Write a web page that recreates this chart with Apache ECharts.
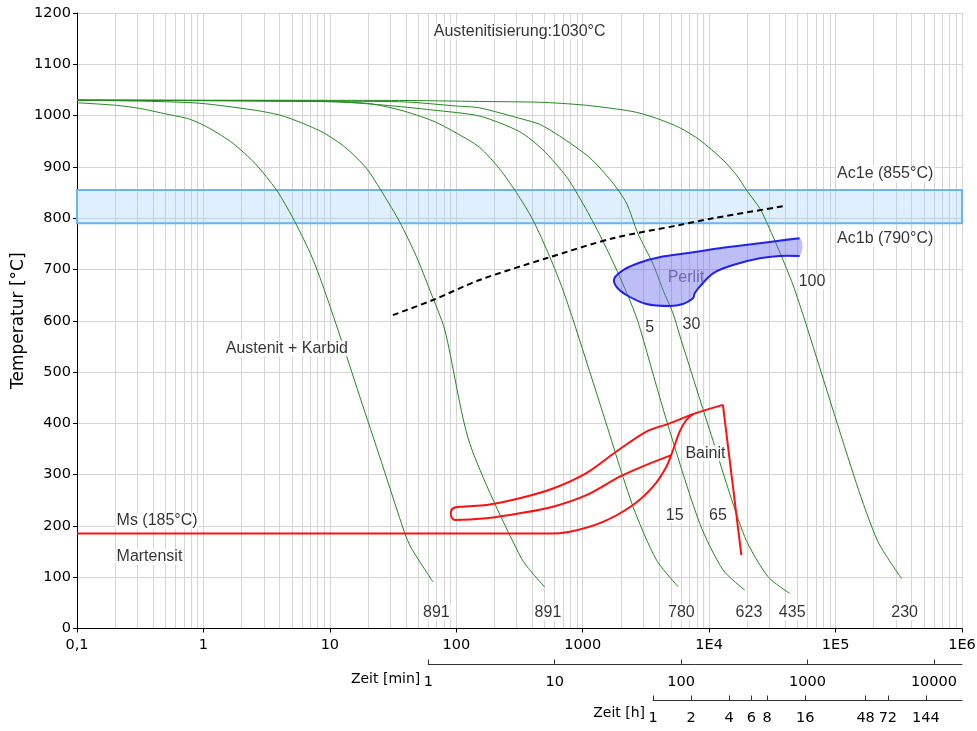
<!DOCTYPE html>
<html><head><meta charset="utf-8">
<script src="https://cdn.jsdelivr.net/npm/echarts@6/dist/echarts.min.js"></script>
<style>html,body{margin:0;padding:0;background:#fff}#c{width:977px;height:731px}</style>
</head><body><div id="c"></div>
<script>
// ---------- data (time in s, temperature in °C) ----------
const xTickLabels = ['0,1','1','10','100','1000','1E4','1E5','1E6'];
const hourTicks = [1,2,4,6,8,16,48,72,144];
const acBand = [790, 855];

const curve891a = [[0.1,1025],[0.205,1020],[0.313,1014],[0.509,1003],[0.778,993],[1.12,975],[1.71,946],[2.55,907],[3.78,855],[5.11,800],[6.93,734],[8.3,686],[11.6,582],[17.2,453],[25.7,323],[39.1,186],[44.2,156],[65.4,91]];
const curve891b = [[0.1,1030],[0.35,1028],[0.934,1024],[2.47,1011],[4.01,1001],[5.96,986],[8.83,967],[13.1,939],[19.5,897],[26.3,848],[35.6,793],[48.4,725],[61.7,660],[81.1,582],[127.7,361],[327,137],[500,81]];
const curve780 = [[0.1,1030],[5.77,1028.3],[19.45,1024],[35.7,1011],[65.4,989.5],[100.2,966],[153,938],[220,896],[299,850],[404,796.5],[548,725],[698,660],[891,582],[1446,419.6],[2500,237.5],[3828,133.8],[5675,81.7]];
const curve623 = [[0.1,1030],[10.5,1027],[26.2,1020.6],[65.1,1010.8],[153,999],[317,968.6],[485,933],[743,881],[946,839.4],[1267,783],[1635,728],[1960,686],[2353,640.5],[2673,605.4],[2912,576],[4592,406.5],[8420,205],[12880,114],[19100,75]];
const curve435 = [[0.1,1030],[35.7,1027],[100.2,1018.7],[153,1015],[337,992.8],[457,983],[658,960],[1135,918],[1694,871.5],[2216,829.6],[2724,771],[3597,710.7],[4315,660],[5177,614.5],[5845,572],[10090,387],[19100,179],[29200,101],[43300,68.6]];
const curve230 = [[0.1,1030],[35.7,1029.5],[153,1027.5],[457,1026],[1005,1020.7],[1847,1012.9],[2659,1006.4],[3828,994.7],[5850,976.4],[8420,952.4],[12880,913.4],[16430,884.2],[19720,855],[25130,819.3],[28380,793.1],[36150,734],[46050,669.7],[57000,601.5],[146100,283],[216500,169.2],[331600,97.7]];
const coolingCurves = [curve891a, curve891b, curve780, curve623, curve435, curve230];

const carbideLine = [[31.5,611],[65.5,640.5],[153,679.5],[516,721.8],[1737,760.8],[5848,786.7],[10720,799.8],[40800,824.3]];
const perlitOutline = [[52000,760.8],[25100,751],[12100,741.3],[6600,731.5],[4040,723.7],[2810,713.2],[2137,700.3],[1781,682.8],[1846,666.4],[2213,650.2],[3189,632.7],[4876,628.8],[6210,632.7],[7450,643.8],[7690,653.5],[8420,666.4],[10740,692.5],[15450,708.7],[25100,721.8],[36100,726.3],[52000,726.3]];
const bainitLoop = [[5030,338],[3190,319],[1963,296],[1069,260],[582,237.5],[318,224.6],[173,215],[97,211.6],[90.3,223],[94.2,234.3],[113,237.5],[173,240.8],[317,254],[582,273],[1069,303],[1846,345],[3189,384],[4875,400],[7450,418],[12850,436]];
const bainitDrop = [[12850,436],[17980,143]];
const msLine = [[0.1,185],[516,185],[789,188.7],[1447,208],[2500,240.8],[3596,276.5],[4592,315.5],[5180,348],[5845,383.7],[6600,406.5],[7450,418]];

const curveLabelText = ['891','891','780','623','435','230','5','30','100','15','65'];
const curveLabelPos = [[69.6,31],[531,31],[6030,31],[20650,31],[45400,31],[352000,31],[3388,587],[7244,592],[65130,676],[5340,221],[11750,221]];
const annoText = ['Austenitisierung:1030°C','Austenit + Karbid','Ms (185°C)','Martensit','Ac1e (855°C)','Ac1b (790°C)','Bainit'];
const annoPos = [[317,1164],[4.57,546],[0.2,209.6],[0.2,140],[1e5,886],[1e5,759.4],[9340,341.6]];
const annoLeft = [false,false,true,true,true,true,false];
const perlitText = 'Perlit';
const perlitPos = [6550,684.7];

// ---------- layout ----------
const W = 977, H = 731;
const G = {left:77, right:15, top:13, bottom:102.5};
const tMin = 0.1, tMax = 1e6;
const pxPerDec = (W - G.left - G.right) / (Math.log10(tMax) - Math.log10(tMin));
const xAt = t => G.left + (Math.log10(t) - Math.log10(tMin)) * pxPerDec;
const SEC_PER_MIN = 60, SEC_PER_H = 3600;

const gridVals = [];
for (let d = -1; d <= 5; d++) for (let m = 1; m <= 9; m++) gridVals.push(m * Math.pow(10, d));
gridVals.push(1e6);

const tickFont = 'DejaVu Sans';
const annoFont = 'Liberation Sans';

const chart = echarts.init(document.getElementById('c'));

const labelData = [];
curveLabelText.forEach((s, i) => labelData.push({value: curveLabelPos[i], label:{show:true, formatter:s, position:'inside'}}));
annoText.forEach((s, i) => labelData.push({value: annoPos[i], label:{show:true, formatter:s, position: annoLeft[i] ? 'right' : 'inside', distance:0}}));

const series = [];
series.push({
  type:'line', data:[], silent:true, z:1,
  markLine:{silent:true, symbol:['none','none'], z:0, animation:false, label:{show:false},
    lineStyle:{color:'#d5d5d5', width:1, type:'solid'}, data: gridVals.map(v => ({xAxis:v}))},
  markArea:{silent:true, z:1, animation:false,
    itemStyle:{color:'rgba(160,205,250,0.32)', borderColor:'#6cb2f4', borderWidth:2},
    data:[[{yAxis:acBand[0]},{yAxis:acBand[1]}]]}
});
coolingCurves.forEach(c => series.push({
  type:'line', data:c, symbol:'none', smooth:0.25, silent:true, z:3,
  lineStyle:{color:'#23891f', width:1}
}));
series.push({type:'line', data:carbideLine, symbol:'none', smooth:0.3, silent:true, z:4,
  lineStyle:{color:'#000', width:2, type:[6,4]}});
series.push({
  type:'custom', data:perlitOutline, silent:true, z:4,
  renderItem:(params, api) => {
    if (params.dataIndex !== 0) return null;
    const pts = perlitOutline.map(p => api.coord(p));
    return {type:'group', children:[
      {type:'polygon', shape:{points:pts, smooth:0.35}, style:{fill:'rgba(100,100,235,0.42)'}},
      {type:'polyline', shape:{points:pts, smooth:0.35}, style:{stroke:'#2222ee', lineWidth:2, fill:null}}
    ]};
  }
});
series.push({type:'scatter', data:[{value:perlitPos}], symbolSize:1, silent:true, z:5,
  itemStyle:{color:'rgba(0,0,0,0)'},
  label:{show:true, formatter:perlitText, position:'inside', fontFamily:annoFont, fontSize:16, color:'rgba(70,70,150,0.85)', textBorderWidth:0}});
series.push({type:'scatter', data:labelData, symbolSize:1, silent:true, z:5,
  itemStyle:{color:'rgba(0,0,0,0)'},
  label:{fontFamily:annoFont, fontSize:16, color:'#000', textBorderWidth:0, backgroundColor:'#fff', padding:[0,1]}});
series.push({type:'line', data:bainitLoop, symbol:'none', smooth:0.3, silent:true, z:6, lineStyle:{color:'#ff1010', width:2}});
series.push({type:'line', data:bainitDrop, symbol:'none', silent:true, z:6, lineStyle:{color:'#ff1010', width:2}});
series.push({type:'line', data:msLine, symbol:'none', smooth:0.3, silent:true, z:6, lineStyle:{color:'#ff1010', width:2}});

const gridMinLeft = xAt(SEC_PER_MIN);
const gridHLeft = xAt(SEC_PER_H);
const gridBase = {containLabel:false, outerBoundsMode:'none'};
const option = {
  animation:false,
  backgroundColor:'#fff',
  grid:[
    Object.assign({left:G.left, right:G.right, top:G.top, bottom:G.bottom}, gridBase),
    Object.assign({left:gridMinLeft, right:G.right, top:654.5, height:10}, gridBase),
    Object.assign({left:gridHLeft, right:G.right, top:690.5, height:10}, gridBase)
  ],
  xAxis:[
    {type:'log', gridIndex:0, min:tMin, max:tMax, logBase:10, splitNumber:7,
      axisLine:{lineStyle:{color:'#000', width:1}},
      axisTick:{show:true, length:4, lineStyle:{color:'#000'}},
      axisLabel:{color:'#000', fontFamily:tickFont, fontSize:14.5, margin:9,
        formatter:v => xTickLabels[Math.round(Math.log10(v)) + 1]},
      splitLine:{show:false}},
    {type:'log', gridIndex:1, min:1, max:tMax/SEC_PER_MIN, logBase:10,
      axisLine:{lineStyle:{color:'#333', width:1}},
      axisTick:{show:true, inside:true, length:5, lineStyle:{color:'#333'}},
      axisLabel:{color:'#000', fontFamily:tickFont, fontSize:14.5, margin:10, formatter:v => String(Math.round(v))},
      splitLine:{show:false},
      name:'Zeit [min]', nameLocation:'start', nameGap:8, nameMoveOverlap:false,
      nameTextStyle:{color:'#000', fontFamily:tickFont, fontSize:14, verticalAlign:'top', padding:[8,0,0,0]}},
    {type:'log', gridIndex:2, min:1, max:tMax/SEC_PER_H, logBase:10,
      axisLine:{lineStyle:{color:'#333', width:1}},
      axisTick:{show:true, inside:true, length:5, lineStyle:{color:'#333'}, customValues:hourTicks},
      axisLabel:{color:'#000', fontFamily:tickFont, fontSize:14.5, margin:10, customValues:hourTicks, formatter:v => String(Math.round(v))},
      splitLine:{show:false},
      name:'Zeit [h]', nameLocation:'start', nameGap:8, nameMoveOverlap:false,
      nameTextStyle:{color:'#000', fontFamily:tickFont, fontSize:14, verticalAlign:'top', padding:[6,0,0,0]}}
  ],
  yAxis:[
    {type:'value', gridIndex:0, min:0, max:1200, interval:100,
      axisLine:{show:true, lineStyle:{color:'#000', width:1}},
      axisTick:{show:true, length:4, lineStyle:{color:'#000'}},
      axisLabel:{color:'#000', fontFamily:tickFont, fontSize:14.5, margin:6, formatter:v => String(v)},
      splitLine:{show:true, lineStyle:{color:'#d5d5d5', width:1}},
      name:'Temperatur [°C]', nameLocation:'middle', nameRotate:90, nameGap:50, nameMoveOverlap:false,
      nameTextStyle:{color:'#000', fontFamily:tickFont, fontSize:17}},
    {type:'value', gridIndex:1, show:false, min:0, max:1},
    {type:'value', gridIndex:2, show:false, min:0, max:1}
  ],
  series: series
};
chart.setOption(option);
</script>
</body></html>
